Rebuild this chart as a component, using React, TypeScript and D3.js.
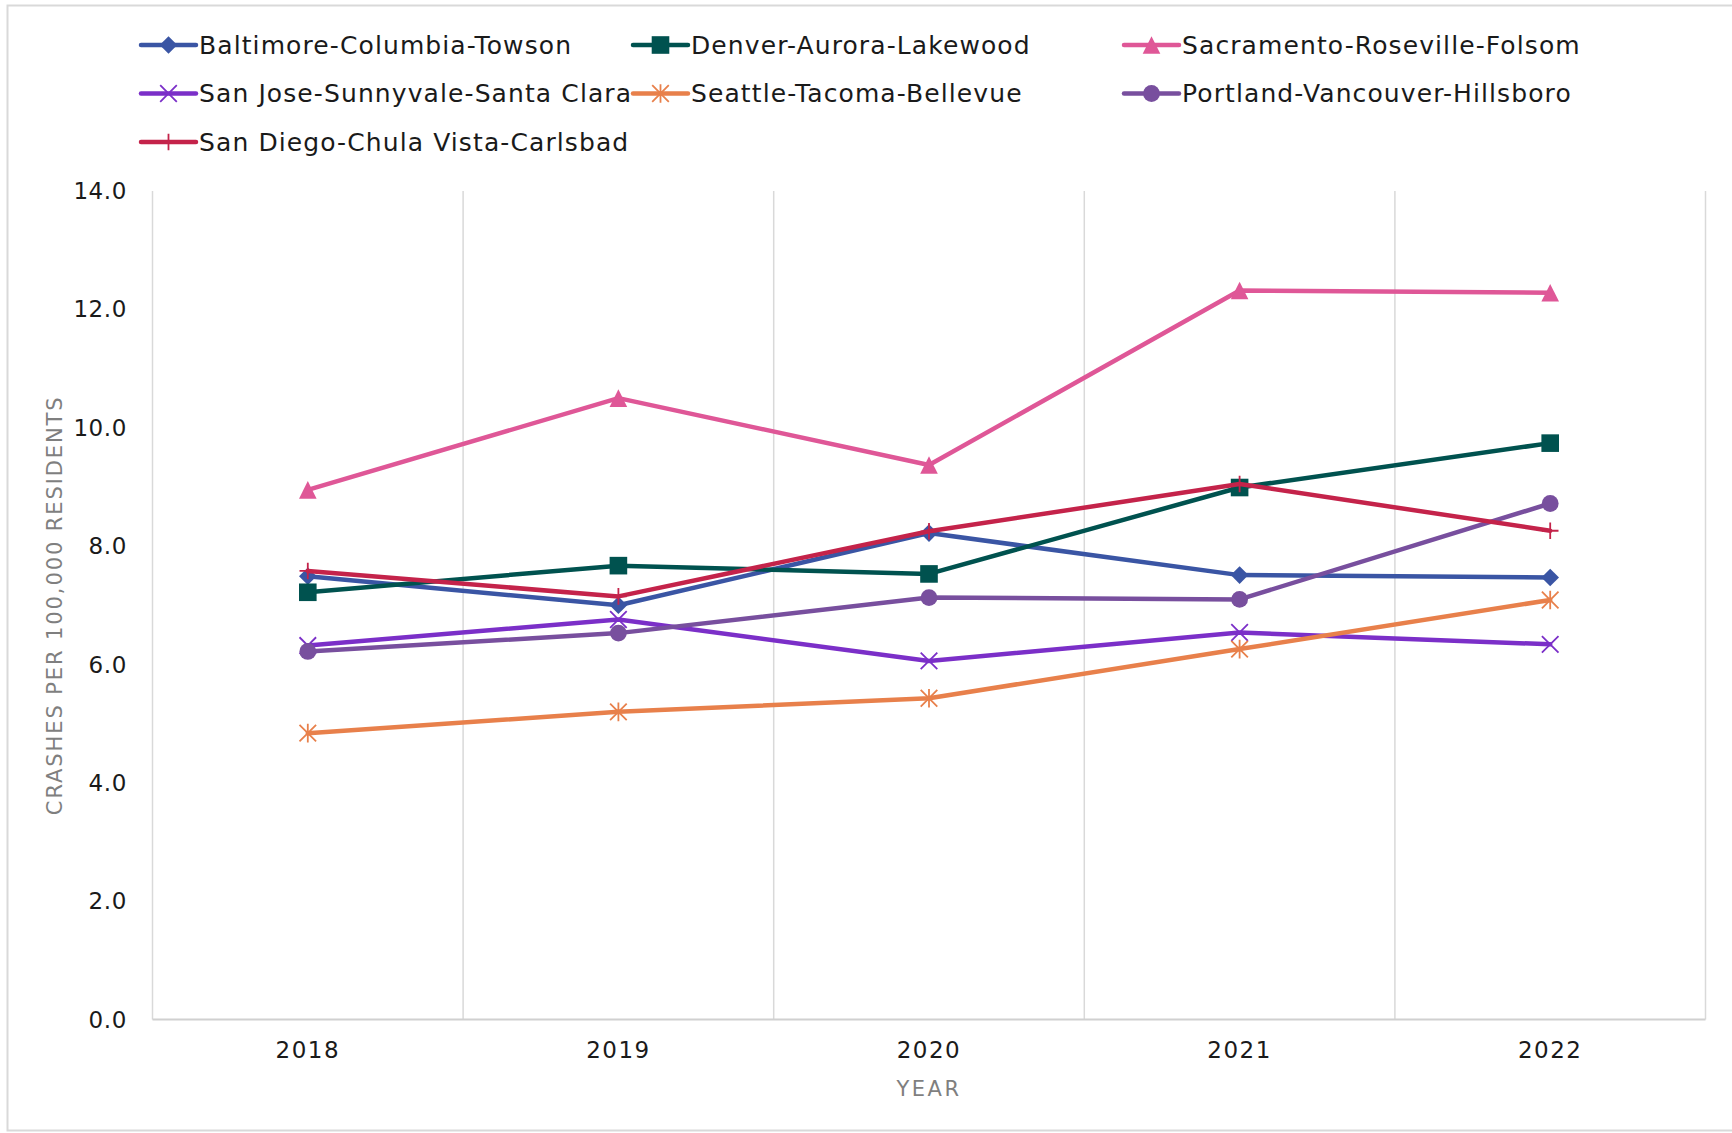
import React from "react";
import * as d3 from "d3";

const years = ["2018", "2019", "2020", "2021", "2022"];
const yTicks = [0, 2, 4, 6, 8, 10, 12, 14];

const baltimore = [7.49, 7.0, 8.22, 7.51, 7.47];
const denver = [7.22, 7.67, 7.53, 8.99, 9.74];
const sacramento = [8.95, 10.5, 9.37, 12.32, 12.28];
const sanJose = [6.32, 6.76, 6.06, 6.54, 6.34];
const seattle = [4.84, 5.2, 5.43, 6.26, 7.09];
const portland = [6.22, 6.53, 7.13, 7.1, 8.72];
const sanDiego = [7.58, 7.15, 8.25, 9.05, 8.26];

const seriesNames = [
  "Baltimore-Columbia-Towson",
  "Denver-Aurora-Lakewood",
  "Sacramento-Roseville-Folsom",
  "San Jose-Sunnyvale-Santa Clara",
  "Seattle-Tacoma-Bellevue",
  "Portland-Vancouver-Hillsboro",
  "San Diego-Chula Vista-Carlsbad",
];
const seriesValues = [baltimore, denver, sacramento, sanJose, seattle, portland, sanDiego];
const seriesColors = ["#3A55A4", "#00524F", "#DF5797", "#7B2FC8", "#E8804B", "#784F9E", "#C4234A"];
const seriesMarkers = ["diamond", "square", "triangle", "x", "star", "circle", "plus"];

const drawOrder = [0, 1, 2, 3, 4, 5, 6];

const W = 1732;
const H = 1133;
const M = { left: 152.5, right: 1705.5, top: 191, bottom: 1019.6 };
const FONT = "'DejaVu Sans', sans-serif";

function Marker({ type, color, x, y }: { type: string; color: string; x: number; y: number }) {
  const s = 8.8;
  if (type === "diamond") {
    return <path d={`M${x},${y - s} L${x + s},${y} L${x},${y + s} L${x - s},${y} Z`} fill={color} />;
  }
  if (type === "square") {
    return <rect x={x - s} y={y - s} width={2 * s} height={2 * s} fill={color} />;
  }
  if (type === "triangle") {
    return <path d={`M${x},${y - s} L${x + s},${y + s} L${x - s},${y + s} Z`} fill={color} />;
  }
  if (type === "circle") {
    return <circle cx={x} cy={y} r={8.4} fill={color} />;
  }
  const k = 8.3;
  if (type === "x") {
    return (
      <path
        d={`M${x - k},${y - k} L${x + k},${y + k} M${x - k},${y + k} L${x + k},${y - k}`}
        stroke={color}
        strokeWidth={1.8}
        fill="none"
      />
    );
  }
  if (type === "star") {
    return (
      <path
        d={`M${x - k},${y - k} L${x + k},${y + k} M${x - k},${y + k} L${x + k},${y - k} M${x},${y - k - 1} L${x},${y + k + 1}`}
        stroke={color}
        strokeWidth={1.8}
        fill="none"
      />
    );
  }
  return (
    <path
      d={`M${x - k},${y} L${x + k},${y} M${x},${y - k} L${x},${y + k}`}
      stroke={color}
      strokeWidth={1.8}
      fill="none"
    />
  );
}

export default function App() {
  const x = d3.scaleBand<string>().domain(years).range([M.left, M.right]).padding(0);
  const y = d3.scaleLinear().domain([0, 14]).range([M.bottom, M.top]);
  const line = d3
    .line<number>()
    .x((_, i) => (x(years[i]) as number) + x.bandwidth() / 2)
    .y((v) => y(v));

  const boundaries = years.map((yr) => x(yr) as number).concat([M.right]);

  const legendCols = [141, 633, 1124];
  const legendRows = [45, 93.5, 142];

  return (
    <svg
      width={W}
      height={H}
      style={{ position: "absolute", left: 0, top: 0, background: "#fff" }}
      fontFamily={FONT}
    >
      <rect x={0} y={0} width={W} height={H} fill="#fff" />
      <rect x={7.5} y={5.5} width={W} height={1125} fill="none" stroke="#D9D9D9" strokeWidth={2} />

      {boundaries.map((bx, i) => (
        <line key={i} x1={bx} x2={bx} y1={M.top} y2={M.bottom} stroke="#D9D9D9" strokeWidth={1.5} />
      ))}
      <line x1={M.left} x2={M.right} y1={M.bottom} y2={M.bottom} stroke="#D0D0D0" strokeWidth={2} />

      {yTicks.map((t) => (
        <text key={t} x={127} y={y(t)} dy="0.35em" textAnchor="end" fontSize={23} letterSpacing={0.6} fill="#1a1a1a">
          {t.toFixed(1)}
        </text>
      ))}
      {years.map((yr) => (
        <text
          key={yr}
          x={(x(yr) as number) + x.bandwidth() / 2}
          y={1050}
          dy="0.35em"
          textAnchor="middle"
          fontSize={23}
          letterSpacing={1.5}
          fill="#1a1a1a"
        >
          {yr}
        </text>
      ))}
      <text x={(M.left + M.right) / 2} y={1089} dy="0.35em" textAnchor="middle" fontSize={21} letterSpacing={2.5} fill="#7F7F7F">
        YEAR
      </text>
      <text
        transform={`translate(55,${(M.top + M.bottom) / 2}) rotate(-90)`}
        textAnchor="middle"
        dy="0.35em"
        fontSize={21}
        letterSpacing={1.9}
        fill="#7F7F7F"
      >
        CRASHES PER 100,000 RESIDENTS
      </text>

      {drawOrder.map((si) => (
        <g key={si}>
          <path
            d={line(seriesValues[si]) as string}
            fill="none"
            stroke={seriesColors[si]}
            strokeWidth={4.5}
            strokeLinejoin="round"
            strokeLinecap="round"
          />
          {seriesValues[si].map((v, i) => (
            <Marker
              key={i}
              type={seriesMarkers[si]}
              color={seriesColors[si]}
              x={(x(years[i]) as number) + x.bandwidth() / 2}
              y={y(v)}
            />
          ))}
        </g>
      ))}

      {seriesNames.map((name, i) => {
        const lx = legendCols[i % 3];
        const ly = legendRows[Math.floor(i / 3)];
        return (
          <g key={name}>
            <line x1={lx} x2={lx + 55} y1={ly} y2={ly} stroke={seriesColors[i]} strokeWidth={4.5} strokeLinecap="round" />
            <Marker type={seriesMarkers[i]} color={seriesColors[i]} x={lx + 27.5} y={ly} />
            <text x={lx + 58} y={ly} dy="0.35em" fontSize={25} letterSpacing={1.1} fill="#1a1a1a">
              {name}
            </text>
          </g>
        );
      })}
    </svg>
  );
}
